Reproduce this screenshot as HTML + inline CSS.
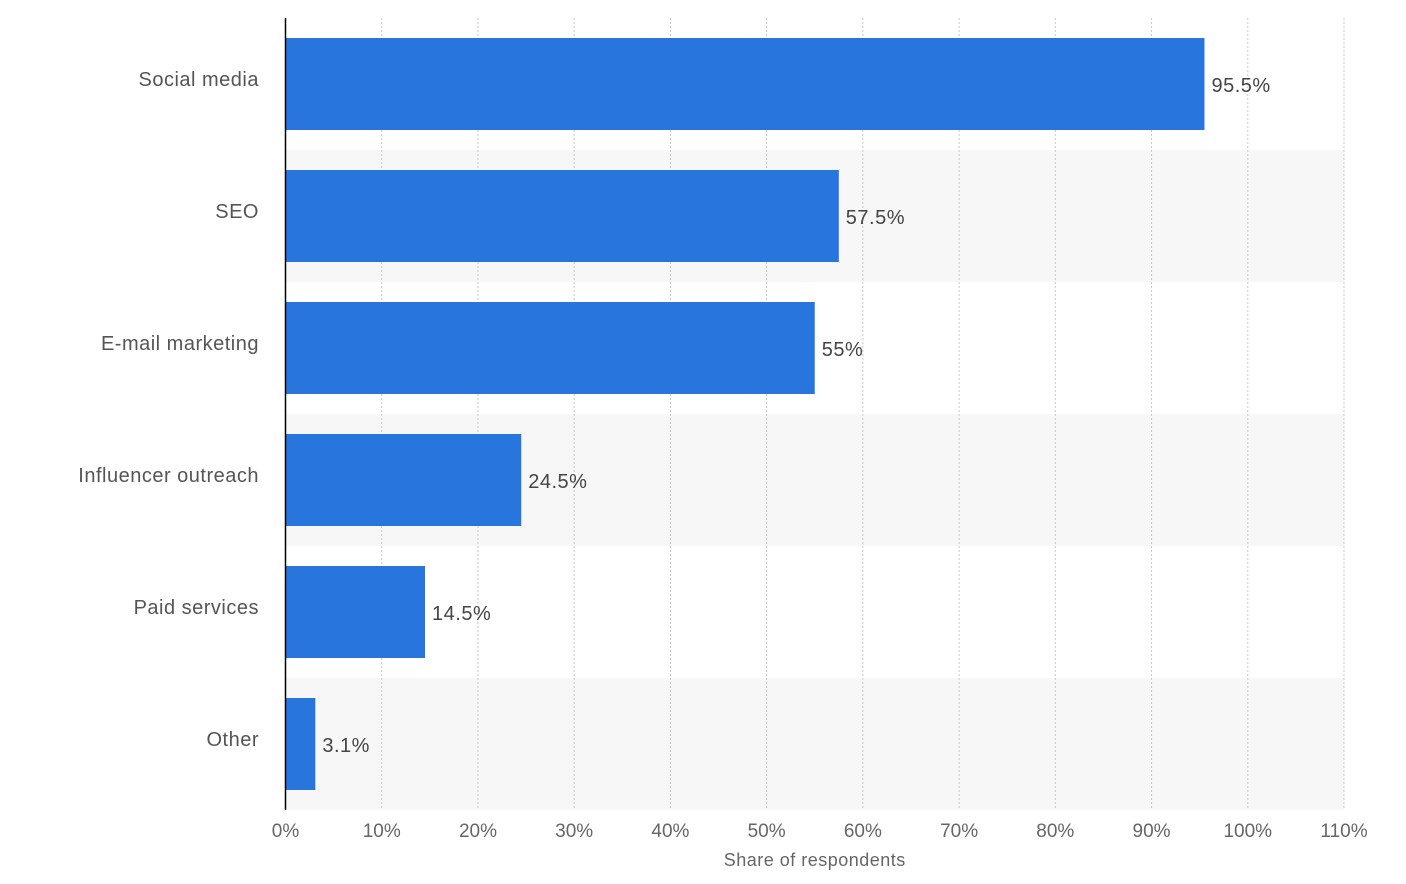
<!DOCTYPE html>
<html><head><meta charset="utf-8"><style>
html,body{margin:0;padding:0;background:#fff;}
svg{display:block;font-family:"Liberation Sans",sans-serif;}
</style></head><body>
<svg id="chart" width="1406" height="884"></svg>
<script>
const categories=["Social media","SEO","E-mail marketing","Influencer outreach","Paid services","Other"];
const values=[95.5,57.5,55,24.5,14.5,3.1];
const valueLabels=["95.5%","57.5%","55%","24.5%","14.5%","3.1%"];
const ticks=[0,10,20,30,40,50,60,70,80,90,100,110];
const tickLabels=["0%","10%","20%","30%","40%","50%","60%","70%","80%","90%","100%","110%"];

const NS="http://www.w3.org/2000/svg";
const svgEl=document.getElementById('chart');
const x0=285.5,x1=1344,yTop=18,yBottom=810,maxV=110;
const xs=v=>x0+(x1-x0)*v/maxV;
const rowH=(yBottom-yTop)/categories.length;
function mk(tag,attrs){const e=document.createElementNS(NS,tag);for(const k in attrs)e.setAttribute(k,attrs[k]);svgEl.appendChild(e);return e;}

categories.forEach((c,i)=>{
  if(i%2===1){
    const b=mk('rect',{x:x0,y:yTop+i*rowH,width:x1-x0,height:rowH,fill:'#f7f7f7'});
    
    
  }
});
ticks.forEach((t,i)=>{
  if(t>0){
    const g=mk('line',{x1:xs(t),x2:xs(t),y1:yTop,y2:yBottom,stroke:'#c8c8c8','stroke-width':1,'stroke-dasharray':'2,2'});
    
    
  }
  const tl=mk('text',{x:xs(t),y:837,'text-anchor':'middle','font-size':19,fill:'#666'});
  tl.textContent=tickLabels[i];
  
  
});
categories.forEach((c,i)=>{
  const y=yTop+i*rowH+20,h=rowH-40;
  const r=mk('rect',{x:x0,y:y,width:xs(values[i])-x0,height:h,fill:'#2876dd'});
  
  
  const vl=mk('text',{x:xs(values[i])+7,y:y+h/2+8,'font-size':20,fill:'#444','letter-spacing':'0.5'});
  vl.textContent=valueLabels[i];
  
  
  const cl=mk('text',{x:259,y:y+h/2+2,'text-anchor':'end','font-size':20,fill:'#555','letter-spacing':'0.5'});
  cl.textContent=c;
  
  
});
const ax=mk('line',{x1:x0,x2:x0,y1:yTop,y2:yBottom,stroke:'#000','stroke-width':1.5});


const at=mk('text',{x:(x0+x1)/2,y:866,'text-anchor':'middle','font-size':18,fill:'#666','letter-spacing':'0.5'});
at.textContent="Share of respondents";


</script>
</body></html>
